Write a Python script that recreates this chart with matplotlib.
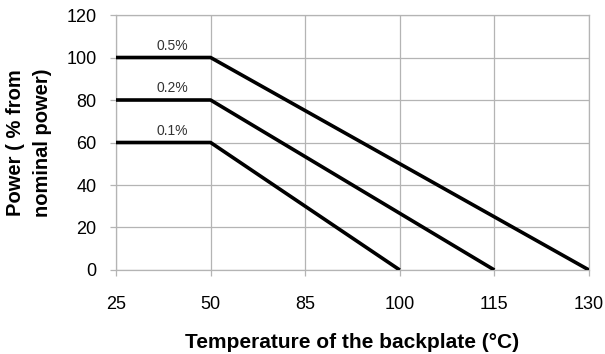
import matplotlib
matplotlib.use("Agg")
from matplotlib import pyplot as plt

plt.rcParams['font.family'] = ['Liberation Sans', 'DejaVu Sans']

# categorical temperature axis (equally spaced in the original)
temps = ['25', '50', '85', '100', '115', '130']
curve_labels = ['0.5%', '0.2%', '0.1%']
# each curve: flat from 25 to 50, then linear drop to zero
curve_x = [[0, 1, 5], [0, 1, 4], [0, 1, 3]]
curve_y = [[100, 100, 0], [80, 80, 0], [60, 60, 0]]
yticks = [0, 20, 40, 60, 80, 100, 120]

fig = plt.figure(figsize=(6.05, 3.54), dpi=100)
ax = fig.add_axes([0.1917, 0.2373, 0.7818, 0.7203])

for xs, ys, lab in zip(curve_x, curve_y, curve_labels):
    ax.plot(xs, ys, color='black', lw=2.6, solid_capstyle='butt', zorder=3)
    ax.text(0.6, ys[0] + 2.2, lab, ha='center', va='bottom', fontsize=10, color='#333333')

ax.set_xlim(0, 5)
ax.set_ylim(0, 120)
ax.set_xticks(range(len(temps)))
ax.set_xticklabels(temps)
ax.set_yticks(yticks)
ax.grid(True, color='#b4b4b4', lw=0.9)
ax.set_axisbelow(True)
for s in ax.spines.values():
    s.set_color('#b4b4b4')
    s.set_linewidth(0.9)
ax.tick_params(axis='both', colors='#b4b4b4', labelcolor='black', labelsize=13, length=4, width=0.9)
ax.tick_params(axis='x', pad=15)
ax.tick_params(axis='y', pad=10)

ax.set_xlabel('Temperature of the backplate (°C)', fontsize=15, fontweight='bold', labelpad=14)
fig.text(29 / 605, 0.5 * (0.2373 + 0.9576), 'Power ( % from\nnominal power)', rotation=90,
         ha='center', va='center', multialignment='center', linespacing=1.55,
         fontsize=14.5, fontweight='bold')

fig.savefig('out.png', dpi=100)
